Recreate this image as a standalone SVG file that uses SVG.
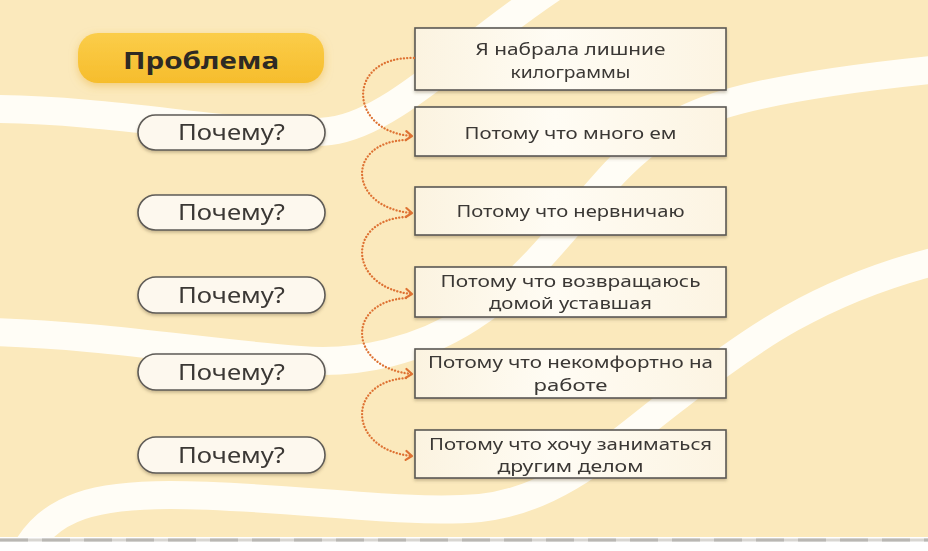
<svg xmlns="http://www.w3.org/2000/svg" width="928" height="551" viewBox="0 0 928 551">
  <defs>
    <style>
      .band { fill: none; stroke: #fffdf6; stroke-width: 28; stroke-linecap: round; }
      .pill { fill: #fdf8ee; stroke: #5e5b57; stroke-width: 1.6; }
      .box { fill: url(#boxg); stroke: #5a5854; stroke-width: 1.6; }
      .q { font-family: "Noto Sans", "Open Sans", sans-serif; font-size: 21px; fill: #3a3734; text-anchor: middle; }
      .t { font-family: "Noto Sans", "Open Sans", sans-serif; font-size: 17px; fill: #3a3734; text-anchor: middle; }
      .title { font-family: "Noto Sans", "Open Sans", sans-serif; font-size: 23px; font-weight: 700; fill: #2e2a24; text-anchor: middle; }
      .conn { fill: none; stroke: #de7233; stroke-width: 2.3; stroke-dasharray: 0.1 3.2; stroke-linecap: round; }
    </style>
    <linearGradient id="boxg" x1="0" y1="0" x2="1" y2="0">
      <stop offset="0" stop-color="#fbf3e0"/>
      <stop offset="0.45" stop-color="#fffcf4"/>
      <stop offset="1" stop-color="#fcf4e2"/>
    </linearGradient>
    <linearGradient id="titleg" x1="0" y1="0" x2="0" y2="1">
      <stop offset="0" stop-color="#fbcd4a"/>
      <stop offset="1" stop-color="#f6bd2c"/>
    </linearGradient>
    <filter id="sh" x="-10%" y="-20%" width="120%" height="160%">
      <feDropShadow dx="0" dy="2" stdDeviation="1.6" flood-color="#6b5a3a" flood-opacity="0.35"/>
    </filter>
    <filter id="glow" x="-15%" y="-40%" width="130%" height="180%">
      <feDropShadow dx="0" dy="3" stdDeviation="4" flood-color="#e8b13a" flood-opacity="0.5"/>
    </filter>
    <clipPath id="bg">
      <rect x="0" y="0" width="928" height="537"/>
    </clipPath>
    <marker id="chev" viewBox="0 0 12 12" refX="10" refY="6" markerWidth="12" markerHeight="12" markerUnits="userSpaceOnUse" orient="auto">
      <path d="M4,1.5 L10,6 L4,10.5" fill="none" stroke="#de7233" stroke-width="2.2" stroke-linecap="round" stroke-linejoin="round"/>
    </marker>
  </defs>

  <!-- background -->
  <rect x="0" y="0" width="928" height="551" fill="#ffffff"/>
  <rect x="0" y="0" width="928" height="537" fill="#fbe9bc"/>
  <g clip-path="url(#bg)">
    <path class="band" d="M -10,109 C 130,110 250,140 330,131 C 395,123 470,40 565,-20"/>
    <path class="band" d="M -10,332 C 100,335 200,352 300,360 C 360,365 420,350 470,318 C 530,280 570,220 615,172 C 660,125 700,108 760,95 C 820,82 880,75 940,69"/>
    <path class="band" d="M 25,552 C 50,505 100,495 170,495 C 280,495 400,515 480,508 C 560,500 620,440 680,395 C 750,340 820,290 940,260"/>
  </g>
  <line x1="0" y1="540" x2="928" y2="540" stroke="#d8d6d2" stroke-width="3"/>
  <line x1="0" y1="540" x2="928" y2="540" stroke="#b9b7b3" stroke-width="3" stroke-dasharray="28 14"/>

  <!-- title -->
  <g id="problem">
    <rect x="78" y="33" width="246" height="50" rx="20" fill="url(#titleg)" filter="url(#glow)"/>
    <text class="title" x="201" y="69" textLength="156" lengthAdjust="spacingAndGlyphs">Проблема</text>
  </g>

  <!-- why pills -->
  <g id="why1" filter="url(#sh)">
    <rect class="pill" x="138" y="115" width="187" height="35" rx="17.5"/>
    <text class="q" x="231.5" y="140" textLength="107" lengthAdjust="spacingAndGlyphs">Почему?</text>
  </g>
  <g id="why2" filter="url(#sh)">
    <rect class="pill" x="138" y="195" width="187" height="35" rx="17.5"/>
    <text class="q" x="231.5" y="220" textLength="107" lengthAdjust="spacingAndGlyphs">Почему?</text>
  </g>
  <g id="why3" filter="url(#sh)">
    <rect class="pill" x="138" y="277" width="187" height="36" rx="18"/>
    <text class="q" x="231.5" y="302.5" textLength="107" lengthAdjust="spacingAndGlyphs">Почему?</text>
  </g>
  <g id="why4" filter="url(#sh)">
    <rect class="pill" x="138" y="354" width="187" height="36" rx="18"/>
    <text class="q" x="231.5" y="379.5" textLength="107" lengthAdjust="spacingAndGlyphs">Почему?</text>
  </g>
  <g id="why5" filter="url(#sh)">
    <rect class="pill" x="138" y="437" width="187" height="36" rx="18"/>
    <text class="q" x="231.5" y="462.5" textLength="107" lengthAdjust="spacingAndGlyphs">Почему?</text>
  </g>

  <!-- answer boxes -->
  <g id="box1" filter="url(#sh)">
    <rect class="box" x="415" y="28" width="311" height="62"/>
    <text class="t" x="570.5" y="54.5" textLength="190" lengthAdjust="spacingAndGlyphs">Я набрала лишние</text>
    <text class="t" x="570.5" y="77.5" textLength="120" lengthAdjust="spacingAndGlyphs">килограммы</text>
  </g>
  <g id="box2" filter="url(#sh)">
    <rect class="box" x="415" y="107" width="311" height="49"/>
    <text class="t" x="570.5" y="138.5" textLength="212" lengthAdjust="spacingAndGlyphs">Потому что много ем</text>
  </g>
  <g id="box3" filter="url(#sh)">
    <rect class="box" x="415" y="187" width="311" height="48"/>
    <text class="t" x="570.5" y="217" textLength="228" lengthAdjust="spacingAndGlyphs">Потому что нервничаю</text>
  </g>
  <g id="box4" filter="url(#sh)">
    <rect class="box" x="415" y="267" width="311" height="50"/>
    <text class="t" x="570.5" y="286.5" textLength="260" lengthAdjust="spacingAndGlyphs">Потому что возвращаюсь</text>
    <text class="t" x="570.5" y="308.5" textLength="163" lengthAdjust="spacingAndGlyphs">домой уставшая</text>
  </g>
  <g id="box5" filter="url(#sh)">
    <rect class="box" x="415" y="349" width="311" height="49"/>
    <text class="t" x="570.5" y="368" textLength="285" lengthAdjust="spacingAndGlyphs">Потому что некомфортно на</text>
    <text class="t" x="570.5" y="391" textLength="74" lengthAdjust="spacingAndGlyphs">работе</text>
  </g>
  <g id="box6" filter="url(#sh)">
    <rect class="box" x="415" y="430" width="311" height="48"/>
    <text class="t" x="570.5" y="449.5" textLength="283" lengthAdjust="spacingAndGlyphs">Потому что хочу заниматься</text>
    <text class="t" x="570.5" y="471.5" textLength="146" lengthAdjust="spacingAndGlyphs">другим делом</text>
  </g>

  <!-- connectors -->
  <g id="connectors">
    <path class="conn" marker-end="url(#chev)" d="M 414,58 C 345,56 348,132 412,136"/>
    <path class="conn" marker-end="url(#chev)" d="M 406,140 C 345,142 348,208 412,213"/>
    <path class="conn" marker-end="url(#chev)" d="M 406,217 C 345,220 348,288 412,294"/>
    <path class="conn" marker-end="url(#chev)" d="M 406,298 C 345,302 348,368 412,374"/>
    <path class="conn" marker-end="url(#chev)" d="M 406,378 C 345,382 348,450 412,456"/>
  </g>
</svg>
